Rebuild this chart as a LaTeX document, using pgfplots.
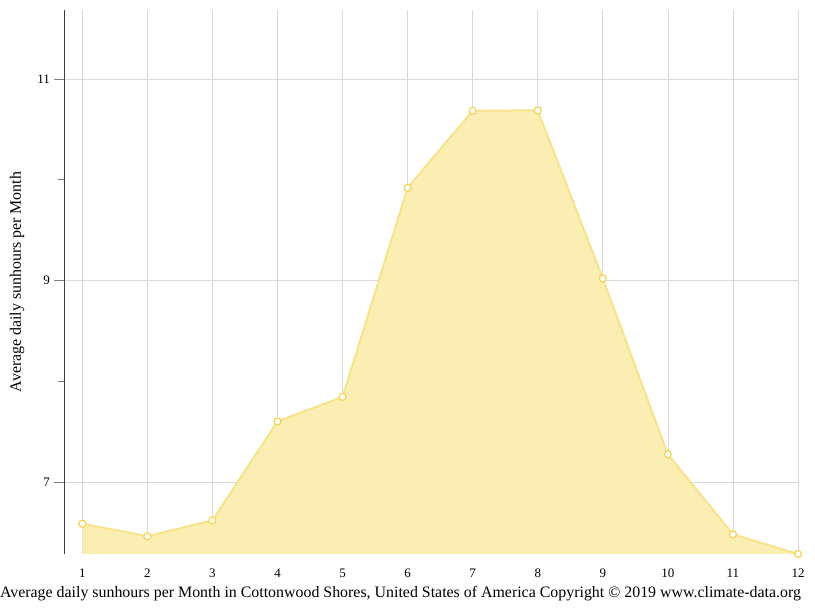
\documentclass[border=0pt]{standalone}
\usepackage{pgfplots}
\pgfplotsset{compat=1.18}
\usepackage{fontspec}
\setmainfont{Liberation Serif}
\definecolor{fillc}{RGB}{250,238,178}
\definecolor{linec}{RGB}{249,226,140}
\definecolor{markc}{RGB}{246,212,80}
\begin{document}
\begin{tikzpicture}
\path[use as bounding box] (-64.5pt,-57pt) rectangle (750.5pt,554pt);
\begin{axis}[
  name=main,
  at={(0,0)}, anchor=south west,
  scale only axis,
  width=733.5pt, height=544pt,
  xmin=0.726, xmax=12,
  ymin=6.285, ymax=11.685,
  clip=false,
  axis x line*=bottom, axis y line*=left,
  x axis line style={draw=none},
  y axis line style={draw=black!75, line width=0.8pt, -},
  xtick={1,...,12},
  ytick={7,9,11},
  minor ytick={8,10},
  xmajorgrids, ymajorgrids,
  major grid style={draw=black!15, line width=0.7pt},
  tick align=outside,
  x tick style={draw=none},
  y tick style={draw=black!50, line width=0.8pt},
  major tick length=10pt,
  minor tick length=6pt,
  /pgf/number format/assume math mode=true,
  tick label style={font=\fontsize{13}{15}\selectfont},
  xticklabel style={yshift=-1pt},
  yticklabel style={xshift=-1pt},
  ylabel={Average daily sunhours per Month},
  ylabel style={at={(axis description cs:-0.0648,0.5)}, anchor=center, font=\fontsize{15.9}{18}\selectfont},
]
\addplot[fill=fillc, draw=none, forget plot] coordinates {
(1,6.586) (2,6.461) (3,6.620) (4,7.602) (5,7.844) (6,9.921)
(7,10.685) (8,10.689) (9,9.02) (10,7.275) (11,6.481) (12,6.285)
} |- (axis cs:1,6.285) -- cycle;
\addplot[color=linec, line width=2pt, mark=*, mark size=3.5pt,
  mark options={fill=white, draw=markc, line width=1.2pt}] coordinates {
(1,6.586) (2,6.461) (3,6.620) (4,7.602) (5,7.844) (6,9.921)
(7,10.685) (8,10.689) (9,9.02) (10,7.275) (11,6.481) (12,6.285)
};
\end{axis}
\node[font=\fontsize{15.9}{18}\selectfont, anchor=center] at (336pt,-39.5pt)
  {Average daily sunhours per Month in Cottonwood Shores, United States of America Copyright © 2019 www.climate-data.org};
\end{tikzpicture}
\end{document}
